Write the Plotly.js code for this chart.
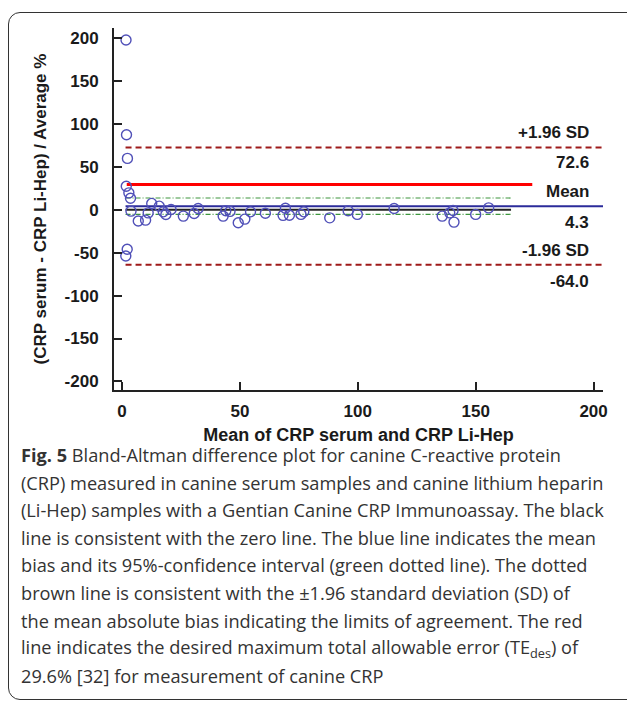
<!DOCTYPE html>
<html>
<head>
<meta charset="utf-8">
<script src="https://cdn.plot.ly/plotly-3.0.1.min.js"></script>
<style>
html,body{margin:0;padding:0;background:#fff;}
#frame{position:absolute;left:8px;top:12px;width:640px;height:688px;border:1.5px solid #333;border-radius:12px;box-sizing:border-box;}
#chart{position:absolute;left:0;top:0;width:627px;height:706px;}
</style>
</head>
<body>
<div id="frame"></div>
<div id="chart"></div>
<script>
// Data
const meanCRP = [1.7, 1.9, 2.3, 1.8, 2.9, 3.6, 3.8, 6.9, 10.0, 11.1, 12.6, 15.8, 17.5, 18.6, 20.8, 26.0, 30.6, 32.3,
  42.9, 44.0, 45.8, 49.3, 52.1, 54.5, 60.8, 68.3, 69.3, 71.0, 75.9, 77.1, 88.1, 95.9, 99.8, 115.4,
  135.8, 139.0, 140.4, 140.8, 150.0, 155.5, 2.2, 1.6];
const diffPct = [198, 87.5, 60, 27.5, 19.8, 13.5, -1.5, -13, -12, -3.5, 7.5, 4.3, -2.3, -5.4, 0.5, -7.3, -4.2, 1.6,
  -7.3, -1.0, -1.8, -15, -10.8, -2.3, -4.0, -6.4, 1.8, -6.3, -5.3, -2.3, -9.3, -1.0, -5.3, 1.6,
  -7.3, -3.5, -0.7, -14.3, -5.3, 2.3, -46, -53.8];

const meanBias = 4.3;
const upperLoA = 72.6;
const lowerLoA = -64.0;
const ciUpper = 13.8;
const ciLower = -5.2;
const teDes = 29.6;
const zeroLine = 0;

const fullSpan = [1.5, 204];
const shortSpan = [1.5, 165];
const redSpan = [2, 174];

const xTicks = [0, 50, 100, 150, 200];
const yTicks = [-200, -150, -100, -50, 0, 50, 100, 150, 200];

const captionLines = [
  "<b>Fig. 5</b> Bland-Altman difference plot for canine C-reactive protein",
  "(CRP) measured in canine serum samples and canine lithium heparin",
  "(Li-Hep) samples with a Gentian Canine CRP Immunoassay. The black",
  "line is consistent with the zero line. The blue line indicates the mean",
  "bias and its 95%-confidence interval (green dotted line). The dotted",
  "brown line is consistent with the \u00b11.96 standard deviation (SD) of",
  "the mean absolute bias indicating the limits of agreement. The red",
  "line indicates the desired maximum total allowable error (TE<sub>des</sub>) of",
  "29.6% [32] for measurement of canine CRP"
];

const condensed = '"Liberation Sans", Arial, sans-serif';

function hline(span, y, color, width, dash) {
  return {x: span, y: [y, y], mode: 'lines', type: 'scatter', hoverinfo: 'skip',
    line: {color: color, width: width, dash: dash || 'solid'}, showlegend: false};
}

const traces = [
  hline(fullSpan, upperLoA, '#9e1a1a', 2, '6px,4px'),
  hline(fullSpan, lowerLoA, '#9e1a1a', 2, '6px,4px'),
  hline(shortSpan, ciUpper, '#3c963c', 1.2, '5px,2px,1px,2px'),
  hline(shortSpan, ciLower, '#3c963c', 1.2, '5px,2px,1px,2px'),
  hline(redSpan, teDes, '#ff0000', 3),
  hline(shortSpan, zeroLine, '#222222', 2),
  hline(fullSpan, meanBias, '#2b2b9a', 2),
  {x: meanCRP, y: diffPct, mode: 'markers', type: 'scatter', showlegend: false,
    marker: {symbol: 'circle-open', size: 10, color: '#5050b8', line: {width: 1.4, color: '#5050b8'}}}
];

const labelFont = {family: condensed, size: 17, color: '#1a1a1a', weight: 'bold'};
function rlabel(text, y, shift) {
  return {x: 199, y: y, xref: 'x', yref: 'y', text: '<b>' + text + '</b>', showarrow: false,
    xanchor: 'right', yanchor: 'middle', yshift: shift, font: labelFont};
}

const annotations = [
  rlabel('+1.96 SD', upperLoA, 15),
  rlabel(upperLoA.toFixed(1), upperLoA, -15),
  rlabel('Mean', meanBias, 15),
  rlabel(meanBias.toFixed(1), meanBias, -16),
  rlabel('-1.96 SD', lowerLoA, 14),
  rlabel(lowerLoA.toFixed(1), lowerLoA, -17)
];

const plotTop = 28, plotBottom = 390, plotH = plotBottom - plotTop;
const plotLeft = 114, plotW = 603 - 114;
const capStart = 455, capStep = 27.6;
captionLines.forEach(function (t, i) {
  const py = capStart + i * capStep;
  annotations.push({
    xref: 'paper', yref: 'paper', x: (19 - plotLeft) / plotW, y: (plotBottom - py) / plotH,
    xanchor: 'left', yanchor: 'middle', showarrow: false, align: 'left', text: t,
    font: {family: '"Open Sans", "Noto Sans", sans-serif', size: 18.2, color: '#333'}
  });
});

const layout = {
  width: 627, height: 706,
  margin: {l: plotLeft, r: 627 - 603, t: plotTop, b: 706 - plotBottom, pad: 0},
  paper_bgcolor: 'rgba(0,0,0,0)', plot_bgcolor: 'rgba(0,0,0,0)',
  showlegend: false,
  xaxis: {
    range: [-3.4, 204], tickvals: xTicks, ticktext: xTicks.map(String),
    showline: true, linecolor: '#222', linewidth: 2, mirror: false,
    ticks: 'inside', ticklen: 8, tickwidth: 2, tickcolor: '#222',
    showgrid: false, zeroline: false, ticklabelstandoff: 5,
    tickfont: {family: condensed, size: 17, color: '#1a1a1a', weight: 'bold'},
    title: {text: '<b>Mean of CRP serum and CRP Li-Hep</b>', standoff: 8,
      font: {family: condensed, size: 18, color: '#1a1a1a'}}
  },
  yaxis: {
    range: [-210, 212], tickvals: yTicks, ticktext: yTicks.map(String),
    showline: true, linecolor: '#222', linewidth: 2, mirror: false,
    ticks: 'inside', ticklen: 8, tickwidth: 2, tickcolor: '#222',
    showgrid: false, zeroline: false, ticklabelstandoff: 10,
    tickfont: {family: condensed, size: 17, color: '#1a1a1a', weight: 'bold'},
    title: {text: '<b>(CRP serum - CRP Li-Hep) / Average %</b>', standoff: 14,
      font: {family: condensed, size: 17, color: '#1a1a1a'}}
  },
  annotations: annotations
};

Plotly.newPlot('chart', traces, layout, {displayModeBar: false, staticPlot: true});
</script>
</body>
</html>
